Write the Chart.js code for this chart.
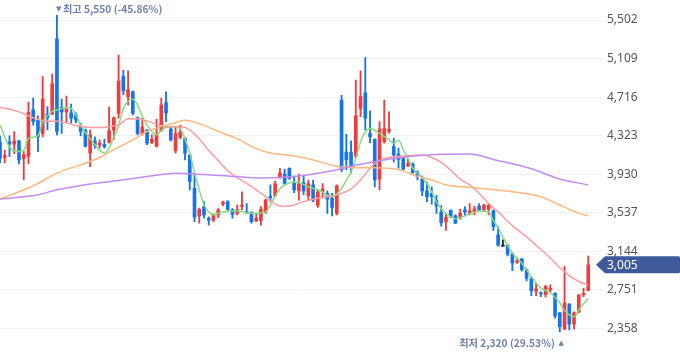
<!DOCTYPE html>
<html><head><meta charset="utf-8">
<script src="https://cdn.jsdelivr.net/npm/chart.js@4/dist/chart.umd.min.js"></script>
<style>html,body{margin:0;padding:0;background:#fff;overflow:hidden}#wrap{width:680px;height:358px;position:relative}</style>
</head><body><div id="wrap"><canvas id="c" width="680" height="358"></canvas></div>
<script>
// ---- data (one entry per trading day) ----
const openPrices = [4260,4100,4260,4235,4270,4085,4110,4585,4480,4345,4540,4545,5310,4610,4565,4555,4535,4420,4380,4145,
4270,4225,4235,4255,4380,4550,4925,4720,4770,4505,4340,4380,4250,4215,4375,4660,4390,4170,4305,4295,
4125,3785,3505,3600,3480,3460,3515,3625,3650,3565,3530,3600,3545,3540,3455,3455,3545,3705,3710,3905,
3930,3990,3845,3760,3845,3710,3820,3610,3750,3735,3685,3530,4685,4155,4155,4110,4600,4760,4345,4285,
3880,4260,4365,4210,4135,4090,4015,4035,3945,3880,3760,3735,3660,3540,3445,3560,3505,3480,3565,3530,
3545,3605,3565,3570,3555,3310,3195,3205,3115,3030,3065,2955,2860,2740,2715,2700,2750,2715,2515,2350,
2605,2400,2525,2700,2745];
const highPrices = [4320,4175,4320,4365,4275,4160,4665,4705,4525,4925,4620,4950,5550,4695,4725,4645,4555,4450,4390,4380,
4310,4280,4285,4615,4515,5145,4990,4985,4780,4515,4500,4385,4330,4490,4705,4770,4410,4415,4430,4300,
4130,3940,3585,3650,3495,3525,3580,3655,3660,3580,3615,3750,3630,3545,3530,3600,3675,3820,3860,3990,
3980,3995,3910,3930,3920,3870,3870,3770,3835,3760,3735,3820,4735,4335,4270,4890,4985,5120,4575,4290,
4465,4685,4565,4295,4195,4100,4090,4045,3965,3910,3850,3800,3715,3610,3530,3565,3515,3570,3600,3630,
3605,3630,3625,3625,3565,3395,3260,3215,3130,3080,3070,2965,2880,2815,2730,2795,2800,2720,2520,2990,
2610,2525,2700,2765,3095];
const lowPrices = [4045,4045,4110,4140,4035,3870,4035,4430,4160,4310,4380,4535,4330,4345,4465,4450,4455,4320,4205,4005,
4195,4195,4195,4245,4285,4500,4740,4635,4535,4330,4330,4230,4240,4205,4365,4465,4270,4145,4290,4075,
3770,3445,3430,3480,3410,3445,3485,3605,3560,3480,3515,3565,3530,3430,3445,3410,3530,3650,3700,3890,
3820,3875,3740,3665,3720,3665,3650,3590,3700,3530,3505,3515,3955,3975,3940,4100,4515,4380,4250,3800,
3770,4245,4345,4055,3990,3975,4005,3940,3870,3710,3650,3625,3530,3400,3355,3490,3425,3470,3505,3515,
3515,3560,3555,3515,3355,3195,3195,3095,2945,3020,2940,2840,2690,2690,2680,2675,2730,2460,2320,2345,
2340,2350,2515,2680,2740];
const closePrices = [4090,4120,4235,4270,4075,4130,4560,4465,4310,4695,4505,4850,4365,4565,4590,4500,4480,4365,4215,4330,
4225,4250,4210,4375,4505,4880,4780,4790,4550,4345,4410,4245,4285,4330,4635,4555,4280,4345,4365,4145,
3855,3495,3570,3515,3460,3515,3565,3645,3570,3520,3565,3615,3535,3445,3480,3570,3665,3690,3830,3940,
3835,3890,3770,3835,3760,3835,3665,3750,3780,3675,3590,3810,3975,4075,4005,4525,4720,4500,4310,3870,
4390,4395,4390,4125,4080,3980,4035,3945,3905,3760,3700,3700,3605,3435,3490,3495,3430,3530,3545,3555,
3575,3565,3615,3615,3395,3205,3195,3115,3025,3045,2955,2870,2740,2760,2710,2785,2765,2485,2375,2615,
2400,2515,2700,2715,3005];

// moving-average lines, read at sampled day positions
const ma5Days = [0,2,4,5,6,8,9,10,11,12,14,15,16,17,18,19,21,22,23,24,25,26,28,29,30,31,32,33,34,35,37,38,39,40,41,42,43,44,45,46,47,48,50,53,56,57,58,59,60,62,63,65,68,69,70,71,72,73,74,75,76,77,78,80,82,83,84,85,86,87,88,90,91,92,94,95,96,97,99,101,103,104,105,106,108,110,112,114,116,118,119,121,122,124];
const ma5Vals = [4430,4210,4160,4170,4295,4320,4465,4525,4570,4585,4610,4600,4535,4430,4355,4295,4175,4145,4195,4310,4420,4600,4695,4635,4515,4430,4365,4330,4380,4405,4415,4390,4290,4145,3940,3770,3615,3545,3515,3530,3545,3550,3555,3530,3545,3615,3705,3780,3820,3850,3845,3800,3750,3715,3700,3730,3785,3870,3950,4090,4260,4360,4395,4345,4280,4245,4275,4180,4090,3990,3940,3835,3750,3645,3530,3495,3475,3485,3525,3555,3545,3455,3385,3290,3125,3020,2885,2770,2720,2615,2540,2475,2545,2665];
const ma20Days = [0,2,4,6,8,10,12,15,17,19,21,23,25,27,30,33,36,38,40,42,44,46,48,50,52,54,56,58,60,62,64,66,69,71,74,76,78,80,82,84,87,89,91,93,95,97,99,101,103,105,108,111,113,116,118,120,122,124];
const ma20Vals = [4610,4595,4565,4525,4490,4470,4470,4440,4415,4405,4405,4415,4430,4495,4485,4440,4410,4415,4380,4290,4170,4070,3965,3895,3835,3770,3700,3625,3600,3615,3650,3675,3700,3720,3780,3870,3990,4070,4100,4110,4120,4125,4100,4050,3970,3880,3820,3735,3630,3545,3405,3290,3205,3075,2975,2895,2835,2800];
const ma60Days = [0,4,8,12,17,21,24,28,31,35,37,39,42,46,50,54,57,62,66,70,74,79,84,88,91,94,99,103,108,114,118,122,124];
const ma60Vals = [3675,3750,3835,3940,4025,4100,4180,4280,4365,4430,4455,4480,4445,4365,4290,4190,4145,4115,4075,4020,3995,3995,3975,3910,3870,3820,3795,3775,3750,3700,3615,3530,3505];
const ma120Days = [0,4,8,12,19,25,31,37,42,50,56,63,70,76,83,90,99,104,112,118,124];
const ma120Vals = [3675,3695,3720,3770,3830,3865,3905,3940,3930,3905,3890,3910,3965,4030,4090,4125,4135,4080,3985,3880,3820];

const tickValues = [2358,2751,3144,3537,3930,4323,4716,5109,5502];
const lastPrice = 3005;
const highMark = {day: 12, price: 5550, label: '최고 5,550 (-45.86%)'};
const lowMark = {day: 118, price: 2320, label: '최저 2,320 (29.53%)'};

// ---- styles ----
const UP = '#f03c3c', DOWN = '#1474e8', FLAT = '#222';
const Y_MIN = 2169, Y_MAX = 5592;

const candleColors = openPrices.map((o, i) => closePrices[i] > o ? UP : (closePrices[i] < o ? DOWN : FLAT));
const wickData = openPrices.map((o, i) => ({x: i, y: [lowPrices[i], highPrices[i]]}));
const bodyData = openPrices.map((o, i) => ({x: i, y: [o, closePrices[i]]}));
const pts = (d, v) => d.map((x, k) => ({x: x, y: v[k]}));

function lineDs(data, color) {
  return {type: 'line', data: data, borderColor: color, borderWidth: 1.5, pointRadius: 0,
    cubicInterpolationMode: 'monotone', spanGaps: true, fill: false, order: 0};
}

const annot = {
  id: 'annot',
  afterDraw(chart) {
    const {ctx, scales: {x, y}, chartArea} = chart;
    ctx.save();
    ctx.fillStyle = '#6e80ae';
    ctx.textBaseline = 'middle';
    const noteFont = 'bold 10.2px "Noto Sans CJK KR"';
    const hx = x.getPixelForValue(highMark.day), hy = y.getPixelForValue(highMark.price);
    ctx.textAlign = 'left';
    ctx.font = '7px "DejaVu Sans"';
    ctx.fillText('▼', hx - 1, hy - 6);
    ctx.font = noteFont;
    ctx.fillText(highMark.label, hx + 6, hy - 6);
    const lx = x.getPixelForValue(lowMark.day), ly = y.getPixelForValue(lowMark.price);
    ctx.textAlign = 'right';
    ctx.font = '7px "DejaVu Sans"';
    ctx.fillText('▲', lx + 4, ly + 11);
    ctx.font = noteFont;
    ctx.fillText(lowMark.label, lx - 5, ly + 11);
    // last price tag
    const ty = y.getPixelForValue(lastPrice);
    const r = chartArea.right;
    ctx.fillStyle = '#3f5a9a';
    ctx.beginPath();
    ctx.moveTo(r + 3, ty);
    ctx.lineTo(r + 12, ty - 8.5);
    ctx.lineTo(679, ty - 8.5);
    ctx.lineTo(680, ty - 7.5);
    ctx.lineTo(680, ty + 7.5);
    ctx.lineTo(679, ty + 8.5);
    ctx.lineTo(r + 12, ty + 8.5);
    ctx.closePath();
    ctx.fill();
    ctx.fillStyle = '#fff';
    ctx.textAlign = 'left';
    ctx.font = '12px "Noto Sans"';
    ctx.fillText(lastPrice.toLocaleString('en-US'), r + 14, ty + 0.5);
    ctx.restore();
  }
};

new Chart(document.getElementById('c'), {
  type: 'bar',
  data: {
    datasets: [
      lineDs(pts(ma120Days, ma120Vals), '#c08cf4'),
      lineDs(pts(ma60Days, ma60Vals), '#ffb87e'),
      lineDs(pts(ma20Days, ma20Vals), '#ff9c9c'),
      lineDs(pts(ma5Days, ma5Vals), '#86dc80'),
      {type: 'bar', data: bodyData, backgroundColor: candleColors, barThickness: 3, minBarLength: 1, grouped: false, order: 1},
      {type: 'bar', data: wickData, backgroundColor: candleColors, barThickness: 1.2, grouped: false, order: 2}
    ]
  },
  options: {
    responsive: false, animation: false, devicePixelRatio: 1,
    layout: {padding: 0},
    plugins: {legend: {display: false}, tooltip: {enabled: false}},
    scales: {
      x: {type: 'linear', min: 0, max: 125, display: false, offset: false},
      y: {
        position: 'right', min: Y_MIN, max: Y_MAX,
        afterBuildTicks: s => { s.ticks = tickValues.map(v => ({value: v})); },
        afterFit: s => { s.width = 87; },
        grid: {color: '#eef0f3', lineWidth: 1, tickLength: 10},
        border: {display: false},
        ticks: {padding: 4, color: '#555', font: {family: 'Noto Sans', size: 12},
          callback: v => Number(v).toLocaleString('en-US')}
      }
    }
  },
  plugins: [annot]
});
</script></body></html>
